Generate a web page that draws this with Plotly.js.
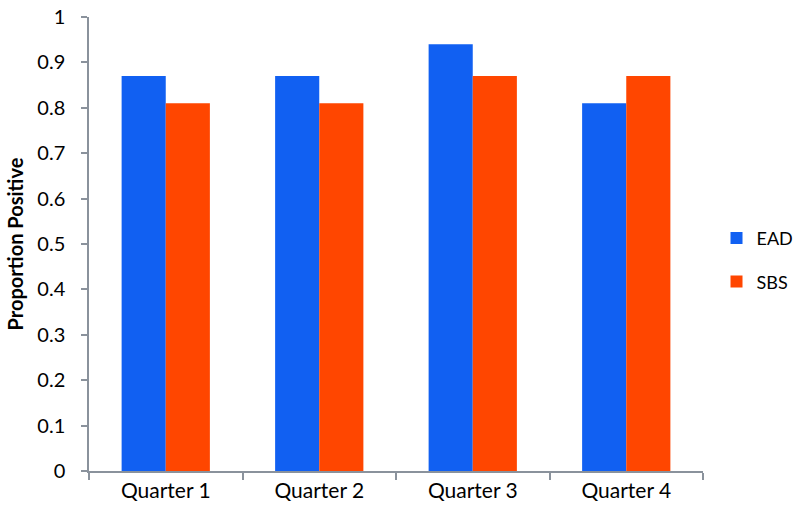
<!DOCTYPE html>
<html><head><meta charset="utf-8">
<script src="https://cdn.plot.ly/plotly-3.0.1.min.js"></script>
<style>html,body{margin:0;padding:0;background:#fff}#c{width:800px;height:514px}</style>
</head><body><div id="c"></div>
<script>
const categories = ["Quarter 1", "Quarter 2", "Quarter 3", "Quarter 4"];
const eadValues = [0.87, 0.87, 0.94, 0.81];
const sbsValues = [0.81, 0.81, 0.87, 0.87];
const yTicks = [0, 0.1, 0.2, 0.3, 0.4, 0.5, 0.6, 0.7, 0.8, 0.9, 1];
const yTickText = ["0", "0.1", "0.2", "0.3", "0.4", "0.5", "0.6", "0.7", "0.8", "0.9", "1"];

const font = "Lato, 'Open Sans', sans-serif";
const data = [
  {type: "bar", name: "EAD", x: categories, y: eadValues, marker: {color: "#1160F2"}, legendgroup: "a"},
  {type: "bar", name: "SBS", x: categories, y: sbsValues, marker: {color: "#FF4600"}, legendgroup: "b"}
];
const layout = {
  width: 800, height: 514,
  margin: {l: 89, r: 97, t: 17, b: 43, autoexpand: false},
  paper_bgcolor: "#fff", plot_bgcolor: "#fff",
  font: {family: font, size: 20, color: "#000"},
  barmode: "group", bargap: 0.425, bargroupgap: 0,
  showlegend: true,
  legend: {x: 1.022, xanchor: "left", y: 0.465, yanchor: "middle", traceorder: "grouped", tracegroupgap: 17, font: {size: 18, family: font}},
  xaxis: {
    type: "category", showline: true, linecolor: "#8a929c", linewidth: 1.5,
    ticks: "outside", tickson: "boundaries", ticklen: 7, tickcolor: "#8a929c", tickwidth: 1.5,
    showgrid: false, zeroline: false, tickfont: {size: 21}
  },
  yaxis: {
    range: [0, 1], tickvals: yTicks, ticktext: yTickText,
    showline: true, linecolor: "#8a929c", linewidth: 1.5,
    ticks: "outside", ticklen: 6, tickcolor: "#8a929c", tickwidth: 1.5,
    ticklabelstandoff: 12,
    showgrid: false, zeroline: false, tickfont: {size: 20},
    title: {text: "<b>Proportion Positive</b>", font: {size: 20}, standoff: 8}
  }
};
Plotly.newPlot("c", data, layout, {displayModeBar: false});
</script></body></html>
